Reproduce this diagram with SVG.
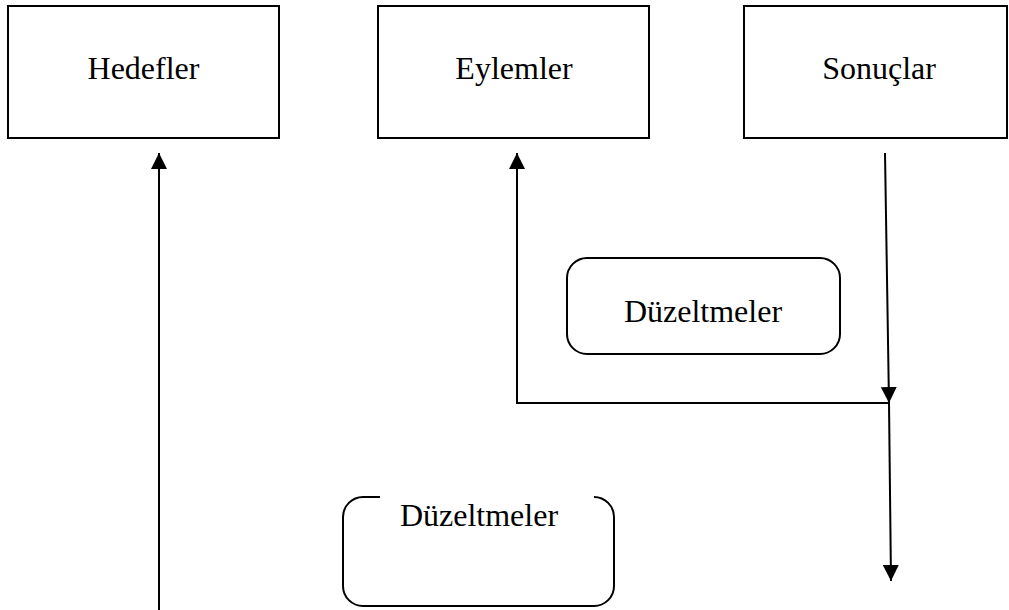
<svg xmlns="http://www.w3.org/2000/svg" width="1009" height="610" viewBox="0 0 1009 610">
<style>
.box{fill:#fff;stroke:#000;stroke-width:2}
.lbl{font-family:"Liberation Serif","Times New Roman",serif;font-size:32px;fill:#000;text-anchor:middle}
.con{fill:none;stroke:#000;stroke-width:2}
</style>
<defs>
<marker id="ah" viewBox="0 0 16 16" refX="16" refY="8" markerWidth="16" markerHeight="16" markerUnits="userSpaceOnUse" orient="auto">
<path d="M0,0 L16,8 L0,16 Z" fill="#000"/>
</marker>
</defs>
<rect width="1009" height="610" fill="#fff"/>
<g id="hedefler">
<rect class="box" x="8" y="6" width="271" height="132"/>
<text class="lbl" x="143.5" y="79">Hedefler</text>
</g>
<g id="eylemler">
<rect class="box" x="378" y="6" width="271" height="132"/>
<text class="lbl" x="514" y="79">Eylemler</text>
</g>
<g id="sonuclar">
<rect class="box" x="744" y="6" width="263" height="132"/>
<text class="lbl" x="879" y="79">Sonuçlar</text>
</g>
<g id="duzeltmeler1">
<rect class="box" x="567" y="258" width="273" height="96" rx="20" ry="20"/>
<text class="lbl" x="703" y="322">Düzeltmeler</text>
</g>
<g id="duzeltmeler2">
<path class="con" d="M380,497 L363,497 A20,20 0 0 0 343,517 L343,586 A20,20 0 0 0 363,606 L594,606 A20,20 0 0 0 614,586 L614,517 A20,20 0 0 0 594,497"/>
<text class="lbl" x="479" y="526">Düzeltmeler</text>
</g>
<g id="connectors">
<line class="con" x1="159" y1="610" x2="159" y2="153" marker-end="url(#ah)"/>
<polyline class="con" points="889,403 517,403 517,153" marker-end="url(#ah)"/>
<line class="con" x1="885" y1="153" x2="889" y2="403" marker-end="url(#ah)"/>
<line class="con" x1="889" y1="403" x2="891" y2="581" marker-end="url(#ah)"/>
</g>
</svg>
